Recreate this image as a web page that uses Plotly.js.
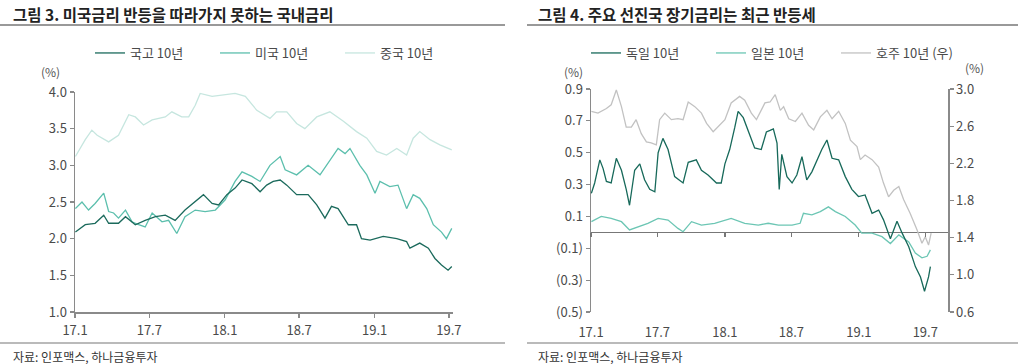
<!DOCTYPE html>
<html>
<head>
<meta charset="utf-8">
<script src="https://cdn.plot.ly/plotly-3.0.1.min.js"></script>
<style>
html,body{margin:0;padding:0;background:#fff;}
#chart{width:1024px;height:364px;}
</style>
</head>
<body>
<div id="chart"></div>
<script>
// ---------- Figure 3 (left): Korea / US / China 10Y ----------
const krDates = ['2017-01-02','2017-01-26','2017-02-19','2017-03-12','2017-03-24','2017-04-17','2017-05-04','2017-05-28','2017-06-21','2017-07-16','2017-08-09','2017-09-02','2017-09-26','2017-10-21','2017-11-10','2017-12-01','2017-12-17','2018-01-06','2018-01-26','2018-02-12','2018-03-08','2018-03-28','2018-04-13','2018-04-29','2018-05-16','2018-06-01','2018-06-25','2018-07-23','2018-08-13','2018-09-02','2018-09-18','2018-10-04','2018-10-29','2018-11-18','2018-11-30','2018-12-21','2019-01-22','2019-02-24','2019-03-20','2019-03-28','2019-04-21','2019-05-12','2019-05-28','2019-06-13','2019-06-29','2019-07-08'];
const krVals = [2.09,2.19,2.21,2.32,2.21,2.21,2.30,2.19,2.25,2.30,2.32,2.25,2.39,2.50,2.60,2.48,2.46,2.60,2.69,2.80,2.75,2.64,2.73,2.78,2.80,2.73,2.60,2.60,2.46,2.28,2.44,2.41,2.19,2.19,2.00,1.98,2.03,2.00,1.96,1.87,1.94,1.87,1.73,1.64,1.57,1.62];

const usDates = ['2017-01-02','2017-01-18','2017-02-03','2017-02-19','2017-03-12','2017-03-24','2017-04-05','2017-04-17','2017-05-04','2017-05-20','2017-06-05','2017-06-21','2017-07-08','2017-08-01','2017-08-17','2017-09-06','2017-09-26','2017-10-21','2017-11-14','2017-12-09','2018-01-02','2018-01-26','2018-02-12','2018-03-08','2018-03-28','2018-04-21','2018-05-16','2018-05-28','2018-06-25','2018-07-23','2018-08-21','2018-09-14','2018-10-04','2018-10-21','2018-11-02','2018-11-26','2018-12-13','2019-01-02','2019-01-14','2019-02-07','2019-02-27','2019-03-20','2019-04-05','2019-04-21','2019-05-08','2019-05-24','2019-06-13','2019-06-25','2019-07-08'];
const usVals = [2.41,2.50,2.39,2.48,2.62,2.37,2.35,2.28,2.39,2.23,2.19,2.16,2.35,2.23,2.25,2.07,2.30,2.39,2.37,2.39,2.53,2.78,2.91,2.85,2.78,3.00,3.12,2.94,2.87,3.00,2.87,3.07,3.23,3.16,3.23,3.00,2.87,2.62,2.78,2.71,2.73,2.41,2.60,2.55,2.41,2.19,2.09,2.00,2.14];

const cnDates = ['2017-01-02','2017-01-26','2017-02-11','2017-02-24','2017-03-24','2017-04-17','2017-05-12','2017-05-28','2017-06-17','2017-07-08','2017-08-09','2017-08-25','2017-09-18','2017-10-05','2017-10-21','2017-11-02','2017-12-01','2017-12-25','2018-01-26','2018-02-20','2018-03-20','2018-04-21','2018-05-07','2018-06-01','2018-06-25','2018-07-15','2018-08-13','2018-09-14','2018-10-17','2018-11-18','2018-12-13','2019-01-06','2019-01-30','2019-02-24','2019-03-20','2019-04-05','2019-04-21','2019-05-16','2019-06-09','2019-07-08'];
const cnVals = [3.12,3.35,3.48,3.41,3.32,3.41,3.69,3.66,3.55,3.62,3.66,3.73,3.66,3.66,3.82,3.98,3.94,3.96,3.98,3.94,3.75,3.64,3.73,3.73,3.57,3.50,3.66,3.73,3.60,3.46,3.37,3.19,3.14,3.23,3.14,3.37,3.46,3.35,3.28,3.21];

// ---------- Figure 4 (right): Germany / Japan / Australia 10Y ----------
const deDates = ['2017-01-02','2017-01-11','2017-01-25','2017-02-03','2017-02-12','2017-02-25','2017-03-11','2017-03-25','2017-04-07','2017-04-16','2017-04-30','2017-05-14','2017-05-27','2017-06-10','2017-06-24','2017-07-03','2017-07-16','2017-07-30','2017-08-17','2017-09-09','2017-09-23','2017-10-15','2017-10-29','2017-11-16','2017-12-09','2017-12-22','2018-01-01','2018-01-14','2018-01-28','2018-02-06','2018-02-20','2018-03-05','2018-03-23','2018-04-10','2018-04-24','2018-05-04','2018-05-13','2018-05-23','2018-05-29','2018-06-05','2018-06-19','2018-07-03','2018-07-16','2018-07-30','2018-08-12','2018-08-26','2018-09-09','2018-09-22','2018-10-06','2018-10-20','2018-11-07','2018-11-25','2018-12-13','2018-12-31','2019-01-18','2019-02-06','2019-02-24','2019-03-09','2019-03-28','2019-04-15','2019-04-29','2019-05-17','2019-06-04','2019-06-18','2019-06-29','2019-07-10','2019-07-15'];
const deVals = [0.245,0.31,0.455,0.40,0.32,0.31,0.465,0.39,0.27,0.17,0.39,0.43,0.33,0.27,0.255,0.50,0.59,0.52,0.35,0.31,0.44,0.455,0.39,0.36,0.31,0.31,0.43,0.52,0.66,0.76,0.72,0.64,0.53,0.52,0.63,0.64,0.65,0.56,0.27,0.49,0.35,0.31,0.36,0.475,0.33,0.38,0.455,0.52,0.58,0.465,0.455,0.35,0.27,0.225,0.235,0.12,0.14,0.08,-0.04,0.07,-0.005,-0.09,-0.215,-0.28,-0.37,-0.28,-0.215];

const jpDates = ['2017-01-02','2017-01-29','2017-02-25','2017-03-25','2017-04-16','2017-05-09','2017-06-05','2017-07-03','2017-07-30','2017-08-26','2017-09-09','2017-10-02','2017-10-29','2017-12-04','2018-01-18','2018-02-24','2018-04-02','2018-04-29','2018-05-27','2018-07-03','2018-07-25','2018-08-03','2018-08-26','2018-09-18','2018-10-10','2018-10-29','2018-11-25','2018-12-22','2019-01-09','2019-02-06','2019-03-05','2019-03-28','2019-04-20','2019-05-17','2019-06-04','2019-06-22','2019-07-06','2019-07-15'];
const jpVals = [0.067,0.10,0.088,0.067,0.015,0.035,0.057,0.088,0.077,0.025,0.004,0.067,0.046,0.057,0.088,0.057,0.046,0.057,0.046,0.046,0.057,0.12,0.11,0.13,0.16,0.13,0.10,0.046,-0.005,-0.005,-0.027,-0.07,-0.016,-0.06,-0.13,-0.16,-0.15,-0.11];

const auDates = ['2017-01-02','2017-01-20','2017-02-12','2017-02-25','2017-03-11','2017-03-25','2017-04-07','2017-04-21','2017-05-04','2017-05-18','2017-06-01','2017-06-14','2017-06-28','2017-07-07','2017-07-21','2017-08-08','2017-08-26','2017-09-09','2017-09-23','2017-10-11','2017-10-29','2017-11-12','2017-11-30','2017-12-13','2018-01-01','2018-01-18','2018-02-10','2018-02-24','2018-03-14','2018-03-28','2018-04-20','2018-05-04','2018-05-18','2018-06-01','2018-06-10','2018-06-24','2018-07-12','2018-07-30','2018-08-17','2018-08-31','2018-09-18','2018-10-06','2018-10-20','2018-11-07','2018-11-25','2018-12-09','2018-12-27','2019-01-05','2019-01-18','2019-02-06','2019-02-24','2019-03-09','2019-03-23','2019-04-06','2019-04-20','2019-05-03','2019-05-21','2019-06-09','2019-06-22','2019-07-01','2019-07-10','2019-07-17'];
const auVals = [2.76,2.74,2.79,2.83,2.99,2.81,2.59,2.59,2.67,2.52,2.43,2.42,2.40,2.67,2.74,2.67,2.68,2.67,2.86,2.81,2.74,2.63,2.54,2.59,2.67,2.85,2.92,2.88,2.74,2.67,2.85,2.86,2.94,2.77,2.81,2.68,2.65,2.74,2.61,2.56,2.70,2.77,2.68,2.76,2.63,2.45,2.38,2.24,2.29,2.24,2.16,1.99,1.84,1.91,1.95,1.81,1.66,1.48,1.34,1.41,1.32,1.45];

// ---------- tick labels ----------
const xTickVals = ['2017-01-01','2017-07-01','2018-01-01','2018-07-01','2019-01-01','2019-07-01'];
const xTickText = ['17.1','17.7','18.1','18.7','19.1','19.7'];
const leftYTicks = [1.0,1.5,2.0,2.5,3.0,3.5,4.0];
const rightLYVals = [-0.5,-0.3,-0.1,0.1,0.3,0.5,0.7,0.9];
const rightLYText = ['(0.5)','(0.3)','(0.1)','0.1','0.3','0.5','0.7','0.9'];
const rightRYVals = [0.6,1.0,1.4,1.8,2.2,2.6,3.0];

const FONT = '"Noto Sans CJK KR", "Noto Sans", sans-serif';
const W = 1024, H = 364;
const px = v => v / W;
const py = v => 1 - v / H;

const C_DARK = '#1b6a5c', C_MID = '#5cbfad', C_LIGHT = '#c6e6df';
const C_DE = '#17695a', C_JP = '#6cc6b4', C_AU = '#c2c2c2';
const AX = '#8a8a8a';
const LW = 1.3;

const traces = [
  {x: cnDates, y: cnVals, name: '중국 10년', mode: 'lines', line: {color: C_LIGHT, width: LW}, xaxis: 'x', yaxis: 'y', legend: 'legend'},
  {x: usDates, y: usVals, name: '미국 10년', mode: 'lines', line: {color: C_MID, width: LW}, xaxis: 'x', yaxis: 'y', legend: 'legend'},
  {x: krDates, y: krVals, name: '국고 10년', mode: 'lines', line: {color: C_DARK, width: LW}, xaxis: 'x', yaxis: 'y', legend: 'legend'},
  {x: auDates, y: auVals, name: '호주 10년 (우)', mode: 'lines', line: {color: C_AU, width: LW}, xaxis: 'x2', yaxis: 'y3', legend: 'legend2'},
  {x: jpDates, y: jpVals, name: '일본 10년', mode: 'lines', line: {color: C_JP, width: LW}, xaxis: 'x2', yaxis: 'y2', legend: 'legend2'},
  {x: deDates, y: deVals, name: '독일 10년', mode: 'lines', line: {color: C_DE, width: LW}, xaxis: 'x2', yaxis: 'y2', legend: 'legend2'},
  // helper trace so the zero-crossing tick axis is drawn
  {x: jpDates, y: jpVals, mode: 'lines', line: {color: 'rgba(0,0,0,0)', width: 0}, xaxis: 'x3', yaxis: 'y2', showlegend: false, hoverinfo: 'skip'}
];

const tickFont = {family: FONT, size: 13, color: '#4a4a4a'};
const yDomL = [py(312), py(92)];
const yDomR = [py(312), py(89)];
const zeroPos = yDomR[0] + (0.5 / 1.4) * (yDomR[1] - yDomR[0]);

const layout = {
  width: W, height: H,
  margin: {l: 0, r: 0, t: 0, b: 0, pad: 0},
  paper_bgcolor: '#fff', plot_bgcolor: 'rgba(0,0,0,0)',
  font: {family: FONT, color: '#444'},
  showlegend: true,
  xaxis: {
    domain: [px(75), px(453)], anchor: 'y', type: 'date',
    range: ['2017-01-01', '2019-07-11'],
    tickvals: xTickVals, ticktext: xTickText, tickfont: tickFont,
    showline: true, linecolor: AX, linewidth: 1.5, ticks: 'outside', ticklen: 4, tickcolor: AX, tickwidth: 1.2,
    ticklabelstandoff: 2,
    showgrid: false, zeroline: false, fixedrange: true
  },
  yaxis: {
    domain: yDomL, anchor: 'x', range: [1.0, 4.0],
    tickvals: leftYTicks, tickformat: '.1f', tickfont: tickFont,
    showline: true, linecolor: AX, linewidth: 1.5, ticks: 'outside', ticklen: 4, tickcolor: AX, tickwidth: 1.2,
    showgrid: false, zeroline: false, fixedrange: true
  },
  xaxis2: {
    domain: [px(591), px(948)], anchor: 'y2', type: 'date',
    range: ['2017-01-01', '2019-09-01'],
    tickvals: xTickVals, ticktext: xTickText, tickfont: tickFont,
    showline: false, ticks: '', ticklabelstandoff: 11,
    showgrid: false, zeroline: false, fixedrange: true
  },
  xaxis3: {
    overlaying: 'x2', anchor: 'free', position: zeroPos, type: 'date',
    range: ['2017-01-01', '2019-09-01'],
    tickvals: xTickVals, showticklabels: false,
    showline: false, ticks: 'outside', ticklen: 4, tickcolor: '#777', tickwidth: 1.2,
    showgrid: false, zeroline: false, fixedrange: true
  },
  yaxis2: {
    domain: yDomR, anchor: 'x2', range: [-0.5, 0.9],
    tickvals: rightLYVals, ticktext: rightLYText, tickfont: tickFont,
    showline: true, linecolor: AX, linewidth: 1.5, ticks: 'outside', ticklen: 4, tickcolor: AX, tickwidth: 1.2,
    showgrid: false, zeroline: true, zerolinecolor: '#777', zerolinewidth: 1.3, fixedrange: true
  },
  yaxis3: {
    overlaying: 'y2', anchor: 'x2', side: 'right', range: [0.6, 3.0],
    tickvals: rightRYVals, tickformat: '.1f', tickfont: tickFont,
    showline: true, linecolor: AX, linewidth: 1.5, ticks: 'outside', ticklen: 4, tickcolor: AX, tickwidth: 1.2,
    showgrid: false, zeroline: false, fixedrange: true
  },
  legend: {
    orientation: 'h', x: px(90), y: py(53), xanchor: 'left', yanchor: 'middle',
    traceorder: 'reversed', font: {family: FONT, size: 13, color: '#4a4a4a'},
    bgcolor: 'rgba(0,0,0,0)', entrywidth: 80, itemwidth: 30
  },
  legend2: {
    orientation: 'h', x: px(586), y: py(53), xanchor: 'left', yanchor: 'middle',
    traceorder: 'reversed', font: {family: FONT, size: 13, color: '#4a4a4a'},
    bgcolor: 'rgba(0,0,0,0)', entrywidth: 80, itemwidth: 30
  },
  shapes: [
    {type: 'line', xref: 'paper', yref: 'paper', x0: 0, x1: px(505), y0: py(25), y1: py(25), line: {color: '#777', width: 1.5}},
    {type: 'line', xref: 'paper', yref: 'paper', x0: px(527), x1: px(1018), y0: py(25), y1: py(25), line: {color: '#777', width: 1.5}},
    {type: 'line', xref: 'paper', yref: 'paper', x0: 0, x1: px(505), y0: py(343), y1: py(343), line: {color: '#777', width: 1.2}},
    {type: 'line', xref: 'paper', yref: 'paper', x0: px(527), x1: px(1018), y0: py(343), y1: py(343), line: {color: '#777', width: 1.2}}
  ],
  annotations: [
    {text: '<b>그림 3. 미국금리 반등을 따라가지 못하는 국내금리</b>', xref: 'paper', yref: 'paper', x: px(11), y: py(14), xanchor: 'left', yanchor: 'middle', showarrow: false, font: {family: FONT, size: 15.5, color: '#222'}},
    {text: '<b>그림 4. 주요 선진국 장기금리는 최근 반등세</b>', xref: 'paper', yref: 'paper', x: px(536), y: py(14), xanchor: 'left', yanchor: 'middle', showarrow: false, font: {family: FONT, size: 15.5, color: '#222'}},
    {text: '(%)', xref: 'paper', yref: 'paper', x: px(50), y: py(72), xanchor: 'center', yanchor: 'middle', showarrow: false, font: {family: FONT, size: 12, color: '#555'}},
    {text: '(%)', xref: 'paper', yref: 'paper', x: px(573), y: py(72), xanchor: 'center', yanchor: 'middle', showarrow: false, font: {family: FONT, size: 12, color: '#555'}},
    {text: '(%)', xref: 'paper', yref: 'paper', x: px(974), y: py(67), xanchor: 'center', yanchor: 'middle', showarrow: false, font: {family: FONT, size: 12, color: '#555'}},
    {text: '자료: 인포맥스, 하나금융투자', xref: 'paper', yref: 'paper', x: px(11), y: py(356), xanchor: 'left', yanchor: 'middle', showarrow: false, font: {family: FONT, size: 12, color: '#333'}},
    {text: '자료: 인포맥스, 하나금융투자', xref: 'paper', yref: 'paper', x: px(536), y: py(356), xanchor: 'left', yanchor: 'middle', showarrow: false, font: {family: FONT, size: 12, color: '#333'}}
  ]
};

Plotly.newPlot('chart', traces, layout, {staticPlot: true, displayModeBar: false});
</script>
</body>
</html>
